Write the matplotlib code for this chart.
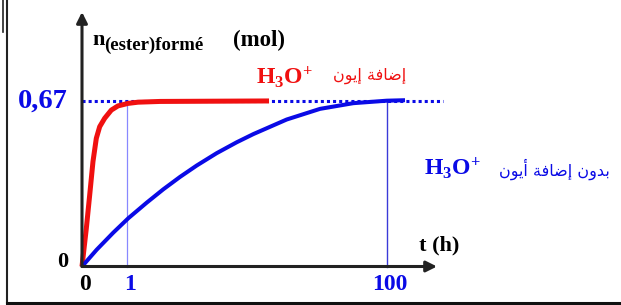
import matplotlib
matplotlib.use("Agg")
import matplotlib.pyplot as plt
from matplotlib.lines import Line2D

# ---- data (schematic x positions: 0 -> t=0, 1 -> t=1 h, 6.77 -> t=100 h) ----
tick_pos = [0, 1, 6.77]
tick_labels = ["0", "1", "100"]
n_final = 0.67

red_x = [0, 0.096, 0.171, 0.244, 0.318, 0.393, 0.504, 0.651, 0.800, 1.022, 1.244, 1.733, 4.156]
red_y = [0, 0.154, 0.289, 0.424, 0.518, 0.565, 0.599, 0.632, 0.649, 0.659, 0.664, 0.667, 0.669]

blue_x = [0, 0.327, 0.696, 1.029, 1.438, 1.807, 2.178, 2.549, 2.993, 3.438, 3.807,
          4.549, 5.289, 6.029, 6.771, 7.178]
blue_y = [0, 0.068, 0.137, 0.195, 0.258, 0.312, 0.362, 0.408, 0.458, 0.502, 0.535,
          0.594, 0.637, 0.660, 0.670, 0.672]

label_red = "إضافة إيون"
label_blue = "بدون إضافة أيون"

# ---- minimal Arabic shaping (presentation forms) + visual reordering ----
# letter: (isolated, final, initial, medial); None -> does not join to next letter
AR_FORMS = {
    "ا": ("\uFE8D", "\uFE8E", None, None),
    "إ": ("\uFE87", "\uFE88", None, None),
    "أ": ("\uFE83", "\uFE84", None, None),
    "ة": ("\uFE93", "\uFE94", None, None),
    "و": ("\uFEED", "\uFEEE", None, None),
    "د": ("\uFEA9", "\uFEAA", None, None),
    "ض": ("\uFEBD", "\uFEBE", "\uFEBF", "\uFEC0"),
    "ف": ("\uFED1", "\uFED2", "\uFED3", "\uFED4"),
    "ي": ("\uFEF1", "\uFEF2", "\uFEF3", "\uFEF4"),
    "ن": ("\uFEE5", "\uFEE6", "\uFEE7", "\uFEE8"),
    "ب": ("\uFE8F", "\uFE90", "\uFE91", "\uFE92"),
}


def shape_arabic(s):
    out = []
    for i, ch in enumerate(s):
        if ch not in AR_FORMS:
            out.append(ch)
            continue
        prev = s[i - 1] if i > 0 else None
        nxt = s[i + 1] if i + 1 < len(s) else None
        joins_prev = prev in AR_FORMS and AR_FORMS[prev][2] is not None
        can_join_next = AR_FORMS[ch][2] is not None and nxt in AR_FORMS
        iso, fin, ini, med = AR_FORMS[ch]
        if joins_prev and can_join_next:
            out.append(med)
        elif joins_prev:
            out.append(fin)
        elif can_join_next:
            out.append(ini)
        else:
            out.append(iso)
    return "".join(reversed(out))


W, H = 621, 305
fig = plt.figure(figsize=(W / 100, H / 100), dpi=100)
ax = fig.add_axes([0, 0, 1, 1])
ax.set_axis_off()

x0px, ux = 82, 45.0
y0px, uy = 266.5, 165.8 / 0.67
ax.set_xlim(-x0px / ux, (W - x0px) / ux)
ax.set_ylim(-(H - y0px) / uy, y0px / uy)

serif = "Liberation Serif"
plt.rcParams["mathtext.fontset"] = "custom"
plt.rcParams["mathtext.bf"] = "Liberation Serif:bold"
plt.rcParams["mathtext.rm"] = "Liberation Serif"

BLUE = "#0a0ae6"
RED = "#f01010"

# guide lines
ax.plot([0, (443 - x0px) / ux], [n_final, n_final], color=BLUE, lw=2.2,
        linestyle=(0, (1, 1)), zorder=2)
ax.plot([tick_pos[1], tick_pos[1]], [0, n_final], color="#8888ff", lw=0.9, zorder=1)
ax.plot([tick_pos[2], tick_pos[2]], [0, n_final], color="#3a3ad8", lw=1.0, zorder=1)

# curves
ax.plot(red_x, red_y, color=RED, lw=3.6, solid_capstyle="butt",
        solid_joinstyle="round", zorder=3)
ax.plot(blue_x, blue_y, color=BLUE, lw=2.9, solid_capstyle="butt",
        solid_joinstyle="round", zorder=3)

# axes arrows
ax.annotate("", xy=(0, (y0px - 12) / uy), xytext=(0, 0),
            arrowprops=dict(arrowstyle="-|>", color="#222222", lw=2.2,
                            mutation_scale=16, shrinkA=0, shrinkB=0), zorder=4)
ax.annotate("", xy=((437 - x0px) / ux, 0), xytext=(0, 0),
            arrowprops=dict(arrowstyle="-|>", color="#222222", lw=2.2,
                            mutation_scale=16, shrinkA=0, shrinkB=0), zorder=4)


def fx(px):
    return px / W


def fy(py):
    return 1 - py / H


T = fig.transFigure

# y label
fig.text(fx(92), fy(40), "n", fontsize=16, fontweight="bold", family=serif,
         ha="left", va="center", color="black")
fig.text(fx(104), fy(45), "(ester)formé", fontsize=13.5, fontweight="bold",
         family=serif, ha="left", va="center", color="black")
fig.text(fx(233), fy(40), "(mol)", fontsize=16.5, fontweight="bold",
         family=serif, ha="left", va="center", color="black")

# value labels
fig.text(fx(68), fy(101), "0,67", fontsize=20.5, fontweight="bold", family=serif,
         ha="right", va="center", color=BLUE)
fig.text(fx(63), fy(262), "0", fontsize=16, fontweight="bold", family=serif,
         ha="center", va="center", color="black")
tick_colors = ["black", BLUE, BLUE]
for p, lab, c in zip(tick_pos, tick_labels, tick_colors):
    ax.text(p + (0.07 if lab == "0" else 0.06), -(284 - y0px) / uy, lab,
            fontsize=17, fontweight="bold", family=serif,
            ha="center", va="center", color=c)
fig.text(fx(439), fy(245), "t (h)", fontsize=16, fontweight="bold",
         family=serif, ha="center", va="center", color="black")

# curve annotations
fig.text(fx(256), fy(77), r"$\mathbf{H_3O^{\!+}}$", fontsize=17, ha="left",
         va="center", color=RED)
fig.text(fx(370), fy(76), shape_arabic(label_red), fontsize=11.5,
         family="DejaVu Sans", ha="center", va="center", color=RED)
fig.text(fx(424), fy(168), r"$\mathbf{H_3O^{\!+}}$", fontsize=17, ha="left",
         va="center", color=BLUE)
fig.text(fx(554), fy(169), shape_arabic(label_blue), fontsize=11.5,
         family="DejaVu Sans", ha="center", va="center", color=BLUE)

# frame lines
fig.add_artist(Line2D([fx(7), fx(7)], [fy(303), 1], transform=T, color="#222222", lw=1.5))
fig.add_artist(Line2D([fx(3), fx(3)], [fy(32), 1], transform=T, color="#222222", lw=1.2))
fig.add_artist(Line2D([fx(7), 1], [fy(303), fy(303)], transform=T, color="#111111", lw=2.2))

fig.savefig("out.png", dpi=100)
